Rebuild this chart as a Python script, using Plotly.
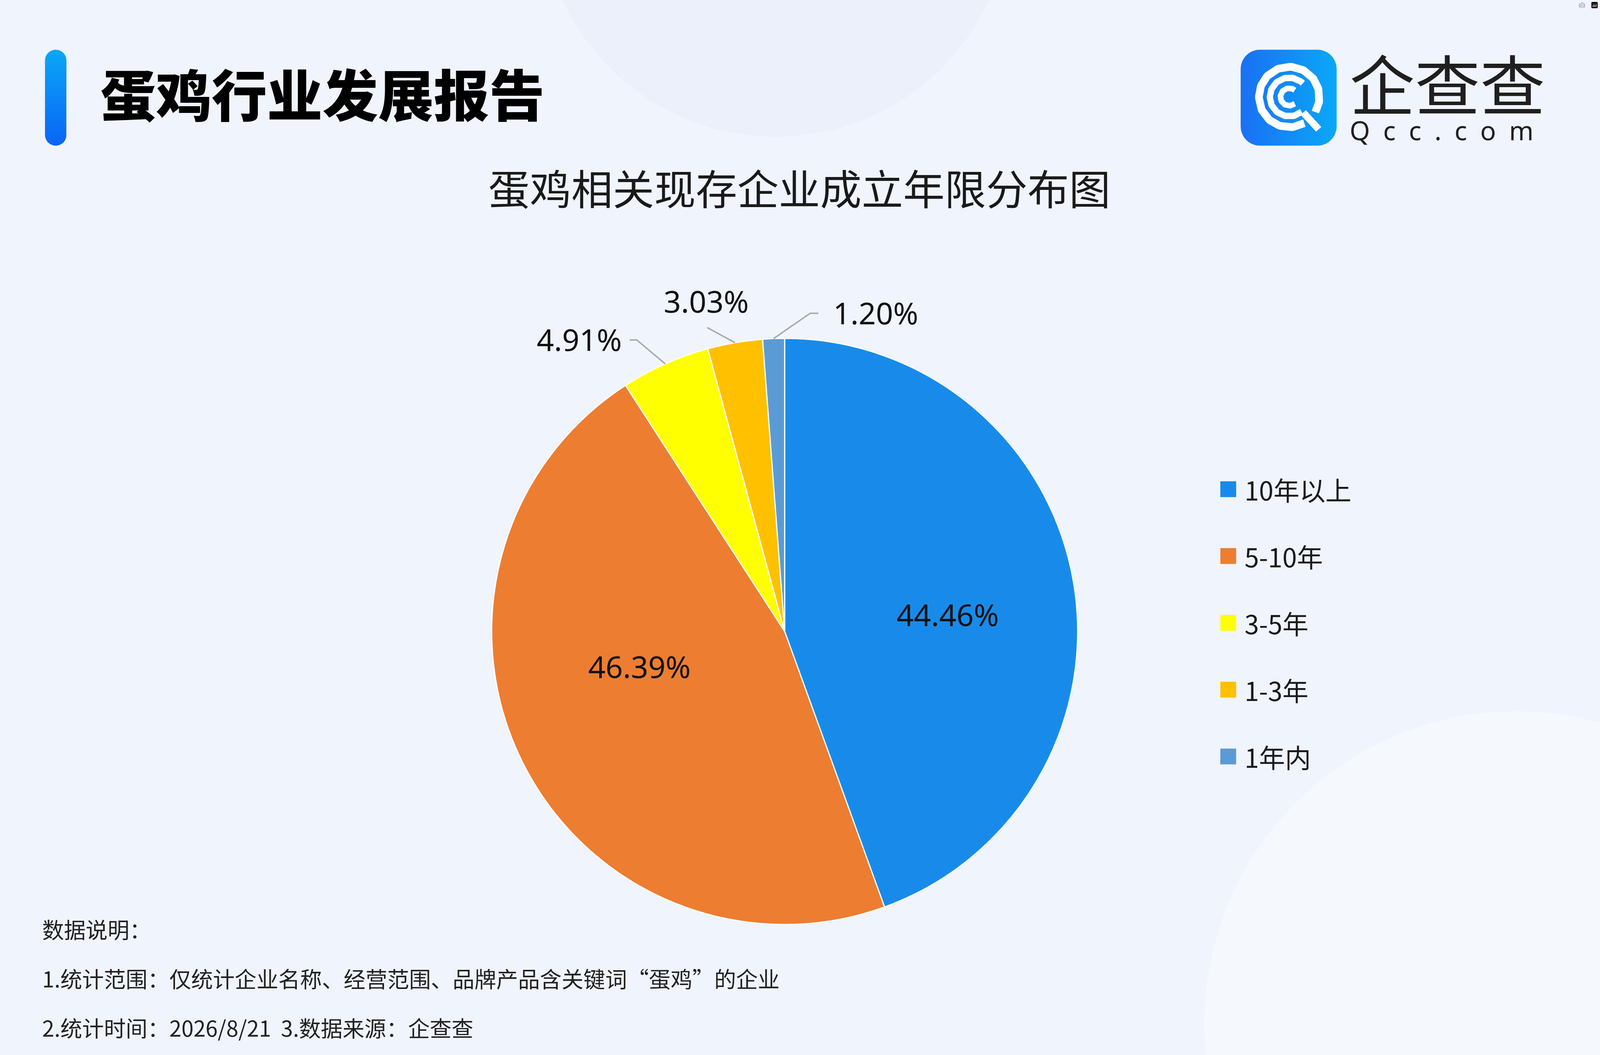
import math
import plotly.graph_objects as go

# The browser viewport here is 4096 x 2700, so the chart is laid out natively on that
# canvas: positions follow the 4800 x 2700 reference proportionally, sizes are scaled
# uniformly so glyphs and the pie stay undistorted.
W, H = 4096, 2700
REF_W, REF_H = 4800, 2700
SX = W / REF_W          # horizontal position factor
SY = H / REF_H          # vertical position factor
K = 0.90                # uniform size factor for fonts / marks

# ---------------- data ----------------
categories = ["10年以上", "5-10年", "3-5年", "1-3年", "1年内"]
shares = [44.46, 46.39, 4.91, 3.03, 1.20]
slice_colors = ["#188BEA", "#ED7D31", "#FFFF00", "#FFC000", "#5B9BD5"]
report_title = "蛋鸡行业发展报告"
chart_title = "蛋鸡相关现存企业成立年限分布图"
brand_cn = "企查查"
brand_en = "Qcc.com"
notes = [
    "数据说明：",
    "1.统计范围：仅统计企业名称、经营范围、品牌产品含关键词“蛋鸡”的企业",
    "2.统计时间：2026/8/21  3.数据来源：企查查",
]

# ---------------- style / layout ----------------
BG = "#F0F4FC"
CJK = "Noto Sans CJK SC"
LAT = "Noto Sans"
CX, CY, R = 2354 * SX, 1616 * SY, 750

inside_label = [(4, 0.56), (13, 0.51), None, None, None]      # (angle shift, radius fraction)
callouts = [None, None, (-81, -68, -20), (-79, -43, 0), (104, -72, 23)]  # ref px offsets


def px(x):
    return x * SX


def py(y):
    return y * SY


def pt(angle_deg, r):
    a = math.radians(angle_deg)
    return CX + r * math.sin(a), CY - r * math.cos(a)


def arc(cx, cy, r, a0, a1, n=90):
    xs, ys = [], []
    for i in range(n + 1):
        a = math.radians(a0 + (a1 - a0) * i / n)
        xs.append(cx + r * math.sin(a))
        ys.append(cy - r * math.cos(a))
    return xs, ys


def rounded_rect(x0, y0, x1, y1, rad):
    xs, ys = [], []
    corners = [(x1 - rad, y0 + rad, 0, 90), (x1 - rad, y1 - rad, 90, 180),
               (x0 + rad, y1 - rad, 180, 270), (x0 + rad, y0 + rad, 270, 360)]
    for cx, cy, a0, a1 in corners:
        ax, ay = arc(cx, cy, rad, a0, a1, 20)
        xs += ax
        ys += ay
    xs.append(xs[0])
    ys.append(ys[0])
    return xs, ys


def deco(xs, ys, **kw):
    fig.add_trace(go.Scatter(x=xs, y=ys, hoverinfo="skip", showlegend=False, **kw))


fig = go.Figure()

# background decorations
bx, by = arc(1986, -250, 600, 0, 360, 200)
deco(bx, by, mode="lines", fill="toself", line=dict(width=0), fillcolor="rgba(226,231,247,0.35)")
bx, by = arc(px(4550), 2620, 800, 0, 360, 200)
deco(bx, by, mode="lines", fill="toself", line=dict(width=0), fillcolor="rgba(250,252,255,0.45)")

# accent bar
BX0 = px(135)
bar_w, bar_h = 61 * K, 273 * K
bar_cy = py(250)
ax_, ay_ = rounded_rect(BX0, bar_cy - bar_h / 2, BX0 + bar_w, bar_cy + bar_h / 2, bar_w / 2)
deco(ax_, ay_, mode="lines", fill="toself", line=dict(width=0),
     fillgradient=dict(type="vertical", start=bar_cy - bar_h / 2, stop=bar_cy + bar_h / 2,
                       colorscale=[[0, "#0AA8F7"], [1, "#0A64F5"]]))

# logo square with the Q mark
LX0 = px(3722)
L_CY = py(250)
sq = 273 * K
lx, ly = rounded_rect(LX0, L_CY - sq / 2, LX0 + sq, L_CY + sq / 2, 55 * K)
deco(lx, ly, mode="lines", fill="toself", line=dict(width=0),
     fillgradient=dict(type="horizontal", start=LX0, stop=LX0 + sq,
                       colorscale=[[0, "#1A70F4"], [1, "#0AA8F8"]]))
QX, QY = LX0 + 138 * K, L_CY - 2 * K
for r, a0, a1, w in [(86, 150, 480, 22), (55, 140, 405, 18), (25, 140, 400, 16)]:
    qx, qy = arc(QX, QY, r * K, a0, a1, 120)
    deco(qx, qy, mode="lines", line=dict(color="white", width=w * K))
deco([QX + 40 * K, QX + 84 * K], [QY + 44 * K, QY + 92 * K], mode="lines",
     line=dict(color="white", width=20 * K))

# pie
fig.add_trace(go.Pie(
    labels=categories, values=shares, sort=False, direction="clockwise", rotation=0,
    marker=dict(colors=slice_colors, line=dict(color="white", width=3)),
    textinfo="none", hoverinfo="label+value", showlegend=False,
    domain=dict(x=[(CX - R) / W, (CX + R) / W], y=[1 - (CY + R) / H, 1 - (CY - R) / H]),
))

annotations = []
shapes = []
LBL_FONT = dict(family=LAT, size=86 * K, color="#111111")

total = sum(shares)
cum = 0.0
for i, v in enumerate(shares):
    a0 = cum / total * 360
    cum += v
    a1 = cum / total * 360
    mid = (a0 + a1) / 2
    label = f"{v:.2f}%"
    if inside_label[i] is not None:
        shift, frac = inside_label[i]
        x, y = pt(mid + shift, R * frac)
        annotations.append(dict(x=x, y=y, xref="x", yref="y", text=label, showarrow=False,
                                xanchor="center", yanchor="middle", font=LBL_FONT))
    else:
        dx, dy, hl = callouts[i]
        sx, sy = pt(mid, R)
        ex, ey = sx + dx * K, sy + dy * K
        hx = ex + hl * K
        shapes.append(dict(type="path", xref="x", yref="y",
                           path=f"M{sx:.1f},{sy:.1f} L{ex:.1f},{ey:.1f} L{hx:.1f},{ey:.1f}",
                           line=dict(color="#A6A6A6", width=3.5)))
        if hl < 0:
            tx, ty, xa = hx - 20 * K, ey - 2 * K, "right"
        elif hl > 0:
            tx, ty, xa = hx + 40 * K, ey - 2 * K, "left"
        else:
            tx, ty, xa = ex - 3 * K, ey - 76 * K, "center"
        annotations.append(dict(x=tx, y=ty, xref="x", yref="y", text=label, showarrow=False,
                                xanchor=xa, yanchor="middle", font=LBL_FONT))

# legend (manual)
LEG_X = px(3661)
for i, (name, col) in enumerate(zip(categories, slice_colors)):
    yc = py(1252 + i * 171)
    s = 45 * K
    shapes.append(dict(type="rect", xref="x", yref="y", x0=LEG_X, x1=LEG_X + s,
                       y0=yc - s / 2, y1=yc + s / 2, fillcolor=col, line=dict(width=0)))
    annotations.append(dict(x=LEG_X + 67 * K, y=yc, xref="x", yref="y", text=name,
                            showarrow=False, xanchor="left", yanchor="middle",
                            font=dict(family=CJK, size=74 * K, color="#1A1A1A")))

# titles
annotations.append(dict(x=BX0 + (290 - 135) * K, y=py(236), xref="x", yref="y",
                        text=report_title, showarrow=False, xanchor="left", yanchor="middle",
                        font=dict(family=CJK, size=158 * K, color="#000000", weight=900)))
annotations.append(dict(x=px(2398), y=py(478), xref="x", yref="y", text=chart_title,
                        showarrow=False, xanchor="center", yanchor="middle",
                        font=dict(family=CJK, size=118 * K, color="#1A1A1A")))

# brand text: one two-line annotation (big Chinese name over spaced-out domain)
BT_X = LX0 + (4030 - 3722) * K
en_spaced = "\u2002".join(brand_en)
brand_text = (f"<span style='font-size:{186 * K:.0f}px'>{brand_cn}</span><br>"
              f"<span style='font-family:{LAT};font-size:{74 * K:.0f}px'>{en_spaced}</span>")
annotations.append(dict(x=BT_X, y=L_CY - 18 * K, xref="x", yref="y", text=brand_text,
                        showarrow=False, xanchor="left", yanchor="middle", align="left",
                        font=dict(family=CJK, size=59, color="#1F1F1F")))

# notes
for k, line in enumerate(notes):
    annotations.append(dict(x=px(124), y=py(2376 + k * 126), xref="x", yref="y", text=line,
                            showarrow=False, xanchor="left", yanchor="middle",
                            font=dict(family=CJK, size=62 * K, color="#222222")))

fig.update_layout(
    width=W, height=H, margin=dict(l=0, r=0, t=0, b=0),
    paper_bgcolor=BG, plot_bgcolor=BG,
    xaxis=dict(range=[0, W], visible=False, fixedrange=True),
    yaxis=dict(range=[H, 0], visible=False, fixedrange=True),
    annotations=annotations, shapes=shapes, showlegend=False,
)

post = """
var gd = document.getElementById('{plot_id}');
var de = document.documentElement, bd = document.body;
de.style.margin = '0'; bd.style.margin = '0';
de.style.overflow = 'hidden'; bd.style.overflow = 'hidden';
de.style.background = '%s'; bd.style.background = '%s';
var sx = window.innerWidth / %d, sy = window.innerHeight / %d;
if (Math.abs(sx - 1) > 0.002 || Math.abs(sy - 1) > 0.002) {
  gd.style.transformOrigin = '0 0';
  gd.style.transform = 'scale(' + sx + ',' + sy + ')';
}
""" % (BG, BG, W, H)

fig.write_html("out.html", post_script=post)
